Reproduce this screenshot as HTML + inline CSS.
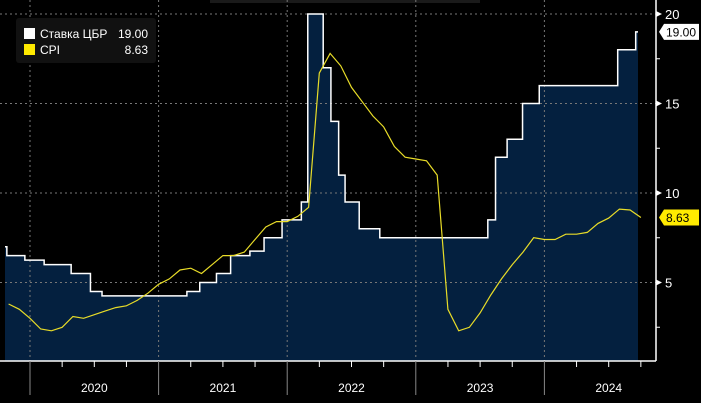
<!DOCTYPE html>
<html><head><meta charset="utf-8"><style>
body{margin:0;background:#000;width:701px;height:403px;overflow:hidden;font-family:"Liberation Sans",sans-serif}
svg{display:block}
</style></head><body>
<svg id="c" width="701" height="403" viewBox="0 0 701 403" font-family="Liberation Sans, sans-serif">
<rect x="210" y="0" width="270" height="3" fill="#1a1a1a"/>
<g id="fill"></g><g id="grid"></g><g id="lines"></g><g id="axes"></g>
<g>
<rect x="16" y="18" width="140" height="45" rx="3" fill="#111"/>
<rect x="24" y="28" width="11" height="11" fill="#fff"/>
<text x="40" y="38" fill="#fff" font-size="12">Ставка ЦБР</text>
<text x="148" y="38" fill="#fff" font-size="12" text-anchor="end">19.00</text>
<rect x="24" y="44" width="11" height="11" fill="#ffea00"/>
<text x="40" y="54" fill="#fff" font-size="12">CPI</text>
<text x="148" y="54" fill="#fff" font-size="12" text-anchor="end">8.63</text>
</g>
</svg>
<script>
const rateDates=[2019.70,2019.82,2019.96,2020.11,2020.32,2020.47,2020.56,2021.22,2021.32,2021.45,2021.56,2021.71,2021.82,2021.96,2022.11,2022.16,2022.28,2022.34,2022.40,2022.45,2022.56,2022.72,2023.56,2023.62,2023.71,2023.83,2023.96,2024.57,2024.71,2024.79];
const rateValues=[7.0,6.5,6.25,6.0,5.5,4.5,4.25,4.5,5.0,5.5,6.5,6.75,7.5,8.5,9.5,20,17,14,11,9.5,8,7.5,8.5,12,13,15,16,18,19,19];
const cpiValues=[3.8,3.5,3.0,2.4,2.3,2.5,3.1,3.0,3.2,3.4,3.6,3.7,4.0,4.4,4.9,5.2,5.7,5.8,5.5,6.0,6.5,6.5,6.7,7.4,8.1,8.4,8.4,8.7,9.2,16.7,17.8,17.1,15.9,15.1,14.3,13.7,12.6,12.0,11.9,11.8,11.0,3.5,2.3,2.5,3.3,4.3,5.2,6.0,6.7,7.5,7.4,7.4,7.7,7.7,7.8,8.3,8.6,9.1,9.05,8.63];
const cpiStart=2019+10/12;
const years=[2020,2021,2022,2023,2024];
const yTicks=[5,10,15,20];
const NS="http://www.w3.org/2000/svg";
const X=t=>30+(t-2020)*128.6;
const Y=v=>14+(20-v)*17.9;
const BASE=361,R=656;
function mk(tag,attrs,parent){const e=document.createElementNS(NS,tag);for(const k in attrs)e.setAttribute(k,attrs[k]);document.getElementById(parent).appendChild(e);return e;}
// step path
let d="";const endX=638;
for(let i=0;i<rateDates.length;i++){const x=Math.max(5,X(rateDates[i]));const y=Y(rateValues[i]);
 if(i===0)d+=`M${x},${y}`;else d+=`H${Math.min(x,endX)}V${y}`;}
d+=`H${endX}`;
const f=mk("path",{d:d+`V${BASE}H5Z`,fill:"#04203f"},"fill");


// grid
years.forEach(yr=>{const l=mk("line",{x1:X(yr),x2:X(yr),y1:0,y2:BASE,stroke:"#777","stroke-dasharray":"2,3","stroke-width":1},"grid");
 
 });
yTicks.forEach(v=>{const l=mk("line",{x1:0,x2:R,y1:Y(v),y2:Y(v),stroke:"#777","stroke-dasharray":"2,3","stroke-width":1},"grid");
 
 });
const rl=mk("path",{d:d,fill:"none",stroke:"#fff","stroke-width":1.5},"lines");


const pts=cpiValues.map((v,i)=>X(cpiStart+i/12).toFixed(1)+","+Y(v).toFixed(1)).join(" ");
const cl=mk("polyline",{points:pts,fill:"none",stroke:"#e8dc28","stroke-width":1.2},"lines");


// axes
const xa=mk("line",{x1:0,x2:R,y1:BASE,y2:BASE,stroke:"#fff","stroke-width":1.5},"axes");


const ya=mk("line",{x1:R,x2:R,y1:0,y2:BASE,stroke:"#fff","stroke-width":1.5},"axes");


for(let q=2019.75;q<=2024.76;q+=0.25){const x=X(q);const major=Math.abs(q-Math.round(q))<0.01;
 const t=mk("line",{x1:x,x2:x,y1:BASE,y2:major?395:367,stroke:major?"#888":"#fff","stroke-width":1},"axes");
 
 }
years.forEach(yr=>{const t=mk("text",{x:X(yr+0.5),y:392,fill:"#fff","font-size":12,"text-anchor":"middle"},"axes");t.textContent=yr;
 
 });
for(let v=2.5;v<=20;v+=2.5){const y=Y(v);const t=mk("line",{x1:R,x2:R+4,y1:y,y2:y,stroke:"#fff"},"axes");
 
 }
yTicks.forEach(v=>{const y=Y(v);const p=mk("path",{d:`M${R},${y-3}L${R+6},${y}L${R},${y+3}Z`,fill:"#fff"},"axes");
 
 
 const t=mk("text",{x:R+9,y:y+5,fill:"#fff","font-size":13},"axes");t.textContent=v;
 
 });
function badge(v,bg,name){const y=Y(v);const g=mk("g",{},"axes");
 
 
 const p=document.createElementNS(NS,"path");p.setAttribute("d",`M${R+3},${y}L${R+8},${y-8}H699V${y+8}H${R+8}Z`);p.setAttribute("fill",bg);g.appendChild(p);
 const t=document.createElementNS(NS,"text");t.setAttribute("x",R+10);t.setAttribute("y",y+4.5);t.setAttribute("fill","#000");t.setAttribute("font-size",12);t.textContent=v.toFixed(2);g.appendChild(t);}
badge(rateValues[rateValues.length-1],"#fff","key-rate-last-value");
badge(cpiValues[cpiValues.length-1],"#ffea00","cpi-last-value");
</script>
</body></html>
